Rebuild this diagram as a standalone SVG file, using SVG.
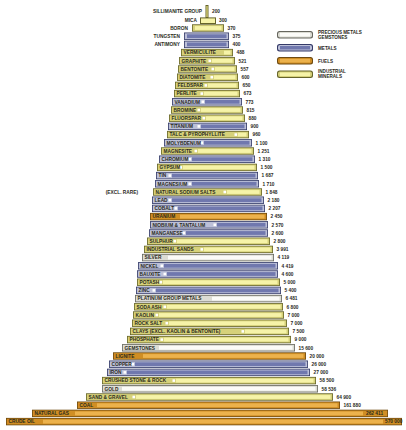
<svg xmlns="http://www.w3.org/2000/svg" width="406" height="430" viewBox="0 0 406 430">
<style>
text{font-family:"Liberation Sans",Arial,sans-serif;font-weight:bold;font-size:4.8px;fill:#2a2a1c}
.o{text-anchor:end}
.lg{font-size:4.6px}
.y .f{fill:#66642a}.y .b{fill:#d6d17a}.y .h{fill:#f6f3a8}
.u .f{fill:#343a68}.u .b{fill:#bcc0d8}.u .h{fill:#7078ae}
.r .f{fill:#6e4a10}.r .b{fill:#d08e24}.r .h{fill:#ecb24c}
.w .f{fill:#66665e}.w .b{fill:#dcdcd4}.w .h{fill:#fbfbf8}
.m{fill:#ffffff}
</style>
<rect width="406" height="430" fill="#ffffff"/>
<g id="legend">
<g id="lg-precious" class="w"><rect class="f" x="277" y="31" width="36" height="7.5" rx="2.5"/><rect class="b" x="278" y="32" width="34" height="5.5" rx="2"/><rect class="h" x="280" y="33" width="30" height="3.5"/><text class="lg" x="318" y="33.5">PRECIOUS METALS</text><text class="lg" x="318" y="38.5">GEMSTONES</text></g>
<g id="lg-metals" class="u"><rect class="f" x="277" y="44" width="36" height="7.5" rx="2.5"/><rect class="b" x="278" y="45" width="34" height="5.5" rx="2"/><rect class="h" x="280" y="46" width="30" height="3.5"/><text class="lg" x="318" y="49.5">METALS</text></g>
<g id="lg-fuels" class="r"><rect class="f" x="277" y="57" width="36" height="7.5" rx="2.5"/><rect class="b" x="278" y="58" width="34" height="5.5" rx="2"/><rect class="h" x="280" y="59" width="30" height="3.5"/><text class="lg" x="318" y="62.5">FUELS</text></g>
<g id="lg-industrial" class="y"><rect class="f" x="277" y="70.5" width="36" height="7.5" rx="2.5"/><rect class="b" x="278" y="71.5" width="34" height="5.5" rx="2"/><rect class="h" x="280" y="72.5" width="30" height="3.5"/><text class="lg" x="318" y="72.5">INDUSTRIAL</text><text class="lg" x="318" y="77.5">MINERALS</text></g>
</g>
<g id="pyramid">
<g id="sillimanite" class="y"><rect class="f" x="205.5" y="5" width="3" height="13"/><rect class="b" x="206.3" y="6" width="1.4" height="11"/><text class="o" x="202" y="13">SILLIMANITE GROUP</text><text x="212" y="13">200</text></g>
<g id="mica" class="y"><rect class="f" x="200" y="17.4" width="16" height="6.6"/><rect class="h" x="201" y="18.4" width="14" height="4.6"/><text class="o" x="197" y="22.3">MICA</text><text x="219" y="22.3">300</text></g>
<g id="boron" class="y"><rect class="f" x="192" y="24.3" width="32" height="7.4"/><rect class="b" x="192.8" y="25.1" width="30.4" height="5.8"/><rect class="h" x="195" y="26.1" width="26.5" height="3.8"/><text class="o" x="188" y="29.7">BORON</text><text x="227.5" y="29.7">370</text></g>
<g id="tungsten" class="u"><rect class="f" x="184" y="32.5" width="45" height="7.4"/><rect class="b" x="184.8" y="33.3" width="43.4" height="5.8"/><rect class="h" x="187" y="34.3" width="39.5" height="3.8"/><text class="o" x="180" y="37.9">TUNGSTEN</text><text x="232.5" y="37.9">375</text></g>
<g id="antimony" class="u"><rect class="f" x="184" y="40.7" width="45" height="7.4"/><rect class="b" x="184.8" y="41.5" width="43.4" height="5.8"/><rect class="h" x="187" y="42.5" width="39.5" height="3.8"/><text class="o" x="180" y="46.1">ANTIMONY</text><text x="232.5" y="46.1">400</text></g>
<g id="vermiculite" class="y"><rect class="f" x="181" y="48.9" width="52" height="7.4"/><rect class="b" x="181.8" y="49.7" width="50.4" height="5.8"/><rect class="h" x="224" y="50.7" width="6.5" height="3.8"/><text x="183.5" y="54.3">VERMICULITE</text><text x="236.5" y="54.3">488</text></g>
<g id="graphite" class="y"><rect class="f" x="179" y="57.1" width="56" height="7.4"/><rect class="b" x="179.8" y="57.9" width="54.4" height="5.8"/><rect class="h" x="212" y="58.9" width="20.5" height="3.8"/><rect class="m" x="208.5" y="59.5" width="2.6" height="2.6"/><text x="181.5" y="62.5">GRAPHITE</text><text x="238.5" y="62.5">521</text></g>
<g id="bentonite" class="y"><rect class="f" x="178" y="65.3" width="59" height="7.4"/><rect class="b" x="178.8" y="66.1" width="57.4" height="5.8"/><rect class="h" x="215" y="67.1" width="19.5" height="3.8"/><rect class="m" x="211.5" y="67.7" width="2.6" height="2.6"/><text x="180.5" y="70.7">BENTONITE</text><text x="240.5" y="70.7">557</text></g>
<g id="diatomite" class="y"><rect class="f" x="177" y="73.5" width="61" height="7.4"/><rect class="b" x="177.8" y="74.3" width="59.4" height="5.8"/><rect class="h" x="214" y="75.3" width="21.5" height="3.8"/><rect class="m" x="210.5" y="75.9" width="2.6" height="2.6"/><text x="179.5" y="78.9">DIATOMITE</text><text x="241.5" y="78.9">600</text></g>
<g id="feldspar" class="y"><rect class="f" x="175" y="81.7" width="64" height="7.4"/><rect class="b" x="175.8" y="82.5" width="62.4" height="5.8"/><rect class="h" x="208" y="83.5" width="28.5" height="3.8"/><rect class="m" x="204.5" y="84.1" width="2.6" height="2.6"/><text x="177.5" y="87.1">FELDSPAR</text><text x="242.5" y="87.1">650</text></g>
<g id="perlite" class="y"><rect class="f" x="174" y="89.9" width="66" height="7.4"/><rect class="b" x="174.8" y="90.7" width="64.4" height="5.8"/><rect class="h" x="204" y="91.7" width="33.5" height="3.8"/><rect class="m" x="200.5" y="92.3" width="2.6" height="2.6"/><text x="176.5" y="95.3">PERLITE</text><text x="243.5" y="95.3">673</text></g>
<g id="vanadium" class="u"><rect class="f" x="172" y="98.1" width="70" height="7.4"/><rect class="b" x="172.8" y="98.9" width="68.4" height="5.8"/><rect class="h" x="205" y="99.9" width="34.5" height="3.8"/><rect class="m" x="201.5" y="100.5" width="2.6" height="2.6"/><text x="174.5" y="103.5">VANADIUM</text><text x="245.5" y="103.5">773</text></g>
<g id="bromine" class="y"><rect class="f" x="171" y="106.3" width="72" height="7.4"/><rect class="b" x="171.8" y="107.1" width="70.4" height="5.8"/><rect class="h" x="201" y="108.1" width="39.5" height="3.8"/><rect class="m" x="197.5" y="108.7" width="2.6" height="2.6"/><text x="173.5" y="111.7">BROMINE</text><text x="246.5" y="111.7">815</text></g>
<g id="fluorspar" class="y"><rect class="f" x="169" y="114.5" width="76" height="7.4"/><rect class="b" x="169.8" y="115.3" width="74.4" height="5.8"/><rect class="h" x="206" y="116.3" width="36.5" height="3.8"/><rect class="m" x="202.5" y="116.9" width="2.6" height="2.6"/><text x="171.5" y="119.9">FLUORSPAR</text><text x="248.5" y="119.9">880</text></g>
<g id="titanium" class="u"><rect class="f" x="168" y="122.7" width="79" height="7.4"/><rect class="b" x="168.8" y="123.5" width="77.4" height="5.8"/><rect class="h" x="201" y="124.5" width="43.5" height="3.8"/><rect class="m" x="197.5" y="125.1" width="2.6" height="2.6"/><text x="170.5" y="128.1">TITANIUM</text><text x="250.5" y="128.1">900</text></g>
<g id="talc" class="y"><rect class="f" x="167" y="130.9" width="82" height="7.4"/><rect class="b" x="167.8" y="131.7" width="80.4" height="5.8"/><rect class="h" x="238" y="132.7" width="8.5" height="3.8"/><rect class="m" x="234.5" y="133.3" width="2.6" height="2.6"/><text x="169.5" y="136.3">TALC &amp; PYROPHYLLITE</text><text x="252.5" y="136.3">960</text></g>
<g id="molybdenum" class="u"><rect class="f" x="164" y="139.1" width="88" height="7.4"/><rect class="b" x="164.8" y="139.9" width="86.4" height="5.8"/><rect class="h" x="204" y="140.9" width="45.5" height="3.8"/><rect class="m" x="200.5" y="141.5" width="2.6" height="2.6"/><text x="166.5" y="144.5">MOLYBDENUM</text><text x="255.5" y="144.5">1 100</text></g>
<g id="magnesite" class="y"><rect class="f" x="161" y="147.3" width="93" height="7.4"/><rect class="b" x="161.8" y="148.1" width="91.4" height="5.8"/><rect class="h" x="198" y="149.1" width="53.5" height="3.8"/><rect class="m" x="194.5" y="149.7" width="2.6" height="2.6"/><text x="163.5" y="152.7">MAGNESITE</text><text x="257.5" y="152.7">1 251</text></g>
<g id="chromium" class="u"><rect class="f" x="159" y="155.5" width="96" height="7.4"/><rect class="b" x="159.8" y="156.3" width="94.4" height="5.8"/><rect class="h" x="192" y="157.3" width="60.5" height="3.8"/><rect class="m" x="188.5" y="157.9" width="2.6" height="2.6"/><text x="161.5" y="160.9">CHROMIUM</text><text x="258.5" y="160.9">1 310</text></g>
<g id="gypsum" class="y"><rect class="f" x="157" y="163.7" width="100" height="7.4"/><rect class="b" x="157.8" y="164.5" width="98.4" height="5.8"/><rect class="h" x="183" y="165.5" width="71.5" height="3.8"/><rect class="m" x="179.5" y="166.1" width="2.6" height="2.6"/><text x="159.5" y="169.1">GYPSUM</text><text x="260.5" y="169.1">1 500</text></g>
<g id="tin" class="u"><rect class="f" x="156" y="171.9" width="102" height="7.4"/><rect class="b" x="156.8" y="172.7" width="100.4" height="5.8"/><rect class="h" x="172" y="173.7" width="83.5" height="3.8"/><rect class="m" x="168.5" y="174.3" width="2.6" height="2.6"/><text x="158.5" y="177.3">TIN</text><text x="261.5" y="177.3">1 687</text></g>
<g id="magnesium" class="u"><rect class="f" x="155" y="180.1" width="104" height="7.4"/><rect class="b" x="155.8" y="180.9" width="102.4" height="5.8"/><rect class="h" x="192" y="181.9" width="64.5" height="3.8"/><rect class="m" x="188.5" y="182.5" width="2.6" height="2.6"/><text x="157.5" y="185.5">MAGNESIUM</text><text x="262.5" y="185.5">1 710</text></g>
<g id="sodium-salts" class="y"><rect class="f" x="153" y="188.3" width="109" height="7.4"/><rect class="b" x="153.8" y="189.1" width="107.4" height="5.8"/><rect class="h" x="227" y="190.1" width="32.5" height="3.8"/><rect class="m" x="223.5" y="190.7" width="2.6" height="2.6"/><text x="155.5" y="193.7">NATURAL SODIUM SALTS</text><text class="o" x="138" y="193.7">(EXCL. RARE)</text><text x="265.5" y="193.7">1 848</text></g>
<g id="lead" class="u"><rect class="f" x="152" y="196.5" width="112" height="7.4"/><rect class="b" x="152.8" y="197.3" width="110.4" height="5.8"/><rect class="h" x="172" y="198.3" width="89.5" height="3.8"/><rect class="m" x="168.5" y="198.9" width="2.6" height="2.6"/><text x="154.5" y="201.9">LEAD</text><text x="267.5" y="201.9">2 180</text></g>
<g id="cobalt" class="u"><rect class="f" x="152" y="204.7" width="113" height="7.4"/><rect class="b" x="152.8" y="205.5" width="111.4" height="5.8"/><rect class="h" x="178" y="206.5" width="84.5" height="3.8"/><rect class="m" x="174.5" y="207.1" width="2.6" height="2.6"/><text x="154.5" y="210.1">COBALT</text><text x="268.5" y="210.1">2 207</text></g>
<g id="uranium" class="r"><rect class="f" x="150" y="212.9" width="117" height="7.4"/><rect class="b" x="150.8" y="213.7" width="115.4" height="5.8"/><rect class="h" x="180" y="214.7" width="84.5" height="3.8"/><text x="152.5" y="218.3">URANIUM</text><text x="270.5" y="218.3">2 450</text></g>
<g id="niobium" class="u"><rect class="f" x="150" y="221.1" width="118" height="7.4"/><rect class="b" x="150.8" y="221.9" width="116.4" height="5.8"/><rect class="h" x="217" y="222.9" width="48.5" height="3.8"/><rect class="m" x="213.5" y="223.5" width="2.6" height="2.6"/><text x="152.5" y="226.5">NIOBIUM &amp; TANTALUM</text><text x="271.5" y="226.5">2 570</text></g>
<g id="manganese" class="u"><rect class="f" x="149" y="229.3" width="119" height="7.4"/><rect class="b" x="149.8" y="230.1" width="117.4" height="5.8"/><rect class="h" x="186" y="231.1" width="79.5" height="3.8"/><rect class="m" x="182.5" y="231.7" width="2.6" height="2.6"/><text x="151.5" y="234.7">MANGANESE</text><text x="271.5" y="234.7">2 600</text></g>
<g id="sulphur" class="y"><rect class="f" x="147" y="237.5" width="123" height="7.4"/><rect class="b" x="147.8" y="238.3" width="121.4" height="5.8"/><rect class="h" x="177" y="239.3" width="90.5" height="3.8"/><rect class="m" x="173.5" y="239.9" width="2.6" height="2.6"/><text x="149.5" y="242.9">SULPHUR</text><text x="273.5" y="242.9">2 800</text></g>
<g id="industrial-sands" class="y"><rect class="f" x="144" y="245.7" width="129" height="7.4"/><rect class="b" x="144.8" y="246.5" width="127.4" height="5.8"/><rect class="h" x="204" y="247.5" width="66.5" height="3.8"/><rect class="m" x="200.5" y="248.1" width="2.6" height="2.6"/><text x="146.5" y="251.1">INDUSTRIAL SANDS</text><text x="276.5" y="251.1">3 991</text></g>
<g id="silver" class="w"><rect class="f" x="142" y="253.9" width="132" height="7.4"/><rect class="b" x="142.8" y="254.7" width="130.4" height="5.8"/><rect class="h" x="168" y="255.7" width="103.5" height="3.8"/><text x="144.5" y="259.3">SILVER</text><text x="277.5" y="259.3">4 119</text></g>
<g id="nickel" class="u"><rect class="f" x="138" y="262.1" width="140" height="7.4"/><rect class="b" x="138.8" y="262.9" width="138.4" height="5.8"/><rect class="h" x="164" y="263.9" width="111.5" height="3.8"/><rect class="m" x="160.5" y="264.5" width="2.6" height="2.6"/><text x="140.5" y="267.5">NICKEL</text><text x="281.5" y="267.5">4 419</text></g>
<g id="bauxite" class="u"><rect class="f" x="137" y="270.3" width="141" height="7.4"/><rect class="b" x="137.8" y="271.1" width="139.4" height="5.8"/><rect class="h" x="167" y="272.1" width="108.5" height="3.8"/><rect class="m" x="163.5" y="272.7" width="2.6" height="2.6"/><text x="139.5" y="275.7">BAUXITE</text><text x="281.5" y="275.7">4 600</text></g>
<g id="potash" class="y"><rect class="f" x="137" y="278.5" width="143" height="7.4"/><rect class="b" x="137.8" y="279.3" width="141.4" height="5.8"/><rect class="h" x="163" y="280.3" width="114.5" height="3.8"/><rect class="m" x="159.5" y="280.9" width="2.6" height="2.6"/><text x="139.5" y="283.9">POTASH</text><text x="283.5" y="283.9">5 000</text></g>
<g id="zinc" class="u"><rect class="f" x="136" y="286.7" width="145" height="7.4"/><rect class="b" x="136.8" y="287.5" width="143.4" height="5.8"/><rect class="h" x="156" y="288.5" width="122.5" height="3.8"/><rect class="m" x="152.5" y="289.1" width="2.6" height="2.6"/><text x="138.5" y="292.1">ZINC</text><text x="284.5" y="292.1">5 400</text></g>
<g id="platinum" class="w"><rect class="f" x="135" y="294.9" width="147" height="7.4"/><rect class="b" x="135.8" y="295.7" width="145.4" height="5.8"/><rect class="h" x="212" y="296.7" width="67.5" height="3.8"/><text x="137.5" y="300.3">PLATINUM GROUP METALS</text><text x="285.5" y="300.3">6 481</text></g>
<g id="soda-ash" class="y"><rect class="f" x="134" y="303.1" width="149" height="7.4"/><rect class="b" x="134.8" y="303.9" width="147.4" height="5.8"/><rect class="h" x="167" y="304.9" width="113.5" height="3.8"/><rect class="m" x="163.5" y="305.5" width="2.6" height="2.6"/><text x="136.5" y="308.5">SODA ASH</text><text x="286.5" y="308.5">6 800</text></g>
<g id="kaolin" class="y"><rect class="f" x="133" y="311.3" width="151" height="7.4"/><rect class="b" x="133.8" y="312.1" width="149.4" height="5.8"/><rect class="h" x="159" y="313.1" width="122.5" height="3.8"/><rect class="m" x="155.5" y="313.7" width="2.6" height="2.6"/><text x="135.5" y="316.7">KAOLIN</text><text x="287.5" y="316.7">7 000</text></g>
<g id="rock-salt" class="y"><rect class="f" x="132" y="319.5" width="155" height="7.4"/><rect class="b" x="132.8" y="320.3" width="153.4" height="5.8"/><rect class="h" x="169" y="321.3" width="115.5" height="3.8"/><rect class="m" x="165.5" y="321.9" width="2.6" height="2.6"/><text x="134.5" y="324.9">ROCK SALT</text><text x="290.5" y="324.9">7 000</text></g>
<g id="clays" class="y"><rect class="f" x="130" y="327.7" width="159" height="7.4"/><rect class="b" x="130.8" y="328.5" width="157.4" height="5.8"/><rect class="h" x="245" y="329.5" width="41.5" height="3.8"/><rect class="m" x="241.5" y="330.1" width="2.6" height="2.6"/><text x="132.5" y="333.1">CLAYS (EXCL. KAOLIN &amp; BENTONITE)</text><text x="292.5" y="333.1">7 500</text></g>
<g id="phosphate" class="y"><rect class="f" x="127" y="335.9" width="164" height="7.4"/><rect class="b" x="127.8" y="336.7" width="162.4" height="5.8"/><rect class="h" x="164" y="337.7" width="124.5" height="3.8"/><rect class="m" x="160.5" y="338.3" width="2.6" height="2.6"/><text x="129.5" y="341.3">PHOSPHATE</text><text x="294.5" y="341.3">9 000</text></g>
<g id="gemstones" class="w"><rect class="f" x="122" y="344.1" width="173" height="7.4"/><rect class="b" x="122.8" y="344.9" width="171.4" height="5.8"/><rect class="h" x="159" y="345.9" width="133.5" height="3.8"/><text x="124.5" y="349.5">GEMSTONES</text><text x="298.5" y="349.5">15 600</text></g>
<g id="lignite" class="r"><rect class="f" x="113" y="352.3" width="193" height="7.4"/><rect class="b" x="113.8" y="353.1" width="191.4" height="5.8"/><rect class="h" x="143" y="354.1" width="160.5" height="3.8"/><text x="115.5" y="357.7">LIGNITE</text><text x="309.5" y="357.7">20 000</text></g>
<g id="copper" class="u"><rect class="f" x="109" y="360.5" width="199" height="7.4"/><rect class="b" x="109.8" y="361.3" width="197.4" height="5.8"/><rect class="h" x="135" y="362.3" width="170.5" height="3.8"/><rect class="m" x="131.5" y="362.9" width="2.6" height="2.6"/><text x="111.5" y="365.9">COPPER</text><text x="311.5" y="365.9">26 000</text></g>
<g id="iron" class="u"><rect class="f" x="107" y="368.7" width="203" height="7.4"/><rect class="b" x="107.8" y="369.5" width="201.4" height="5.8"/><rect class="h" x="127" y="370.5" width="180.5" height="3.8"/><rect class="m" x="123.5" y="371.1" width="2.6" height="2.6"/><text x="109.5" y="374.1">IRON</text><text x="313.5" y="374.1">27 000</text></g>
<g id="crushed-stone" class="y"><rect class="f" x="102" y="376.9" width="214" height="7.4"/><rect class="b" x="102.8" y="377.7" width="212.4" height="5.8"/><rect class="h" x="176" y="378.7" width="137.5" height="3.8"/><rect class="m" x="172.5" y="379.3" width="2.6" height="2.6"/><text x="104.5" y="382.3">CRUSHED STONE &amp; ROCK</text><text x="319.5" y="382.3">58 500</text></g>
<g id="gold" class="w"><rect class="f" x="102" y="385.1" width="216" height="7.4"/><rect class="b" x="102.8" y="385.9" width="214.4" height="5.8"/><rect class="h" x="122" y="386.9" width="193.5" height="3.8"/><text x="104.5" y="390.5">GOLD</text><text x="321.5" y="390.5">58 536</text></g>
<g id="sand-gravel" class="y"><rect class="f" x="86" y="393.3" width="247" height="7.4"/><rect class="b" x="86.8" y="394.1" width="245.4" height="5.8"/><rect class="h" x="136" y="395.1" width="194.5" height="3.8"/><rect class="m" x="132.5" y="395.7" width="2.6" height="2.6"/><text x="88.5" y="398.7">SAND &amp; GRAVEL</text><text x="336.5" y="398.7">64 900</text></g>
<g id="coal" class="r"><rect class="f" x="77" y="401.5" width="263" height="7.4"/><rect class="b" x="77.8" y="402.3" width="261.4" height="5.8"/><rect class="h" x="97" y="403.3" width="240.5" height="3.8"/><text x="79.5" y="406.9">COAL</text><text x="343.5" y="406.9">161 880</text></g>
<g id="natural-gas" class="r"><rect class="f" x="32" y="409.7" width="356" height="7.4"/><rect class="b" x="32.8" y="410.5" width="354.4" height="5.8"/><rect class="h" x="75" y="411.5" width="288" height="3.8"/><text x="34.5" y="415.1">NATURAL GAS</text><text x="366" y="415.1">262 411</text></g>
<g id="crude-oil" class="r"><rect class="f" x="6" y="417.9" width="396" height="7.4"/><rect class="b" x="6.8" y="418.7" width="394.4" height="5.8"/><rect class="h" x="43" y="419.7" width="340" height="3.8"/><text x="8.5" y="423.3">CRUDE OIL</text><text x="385" y="423.3">570 000</text></g>
</g>
</svg>
